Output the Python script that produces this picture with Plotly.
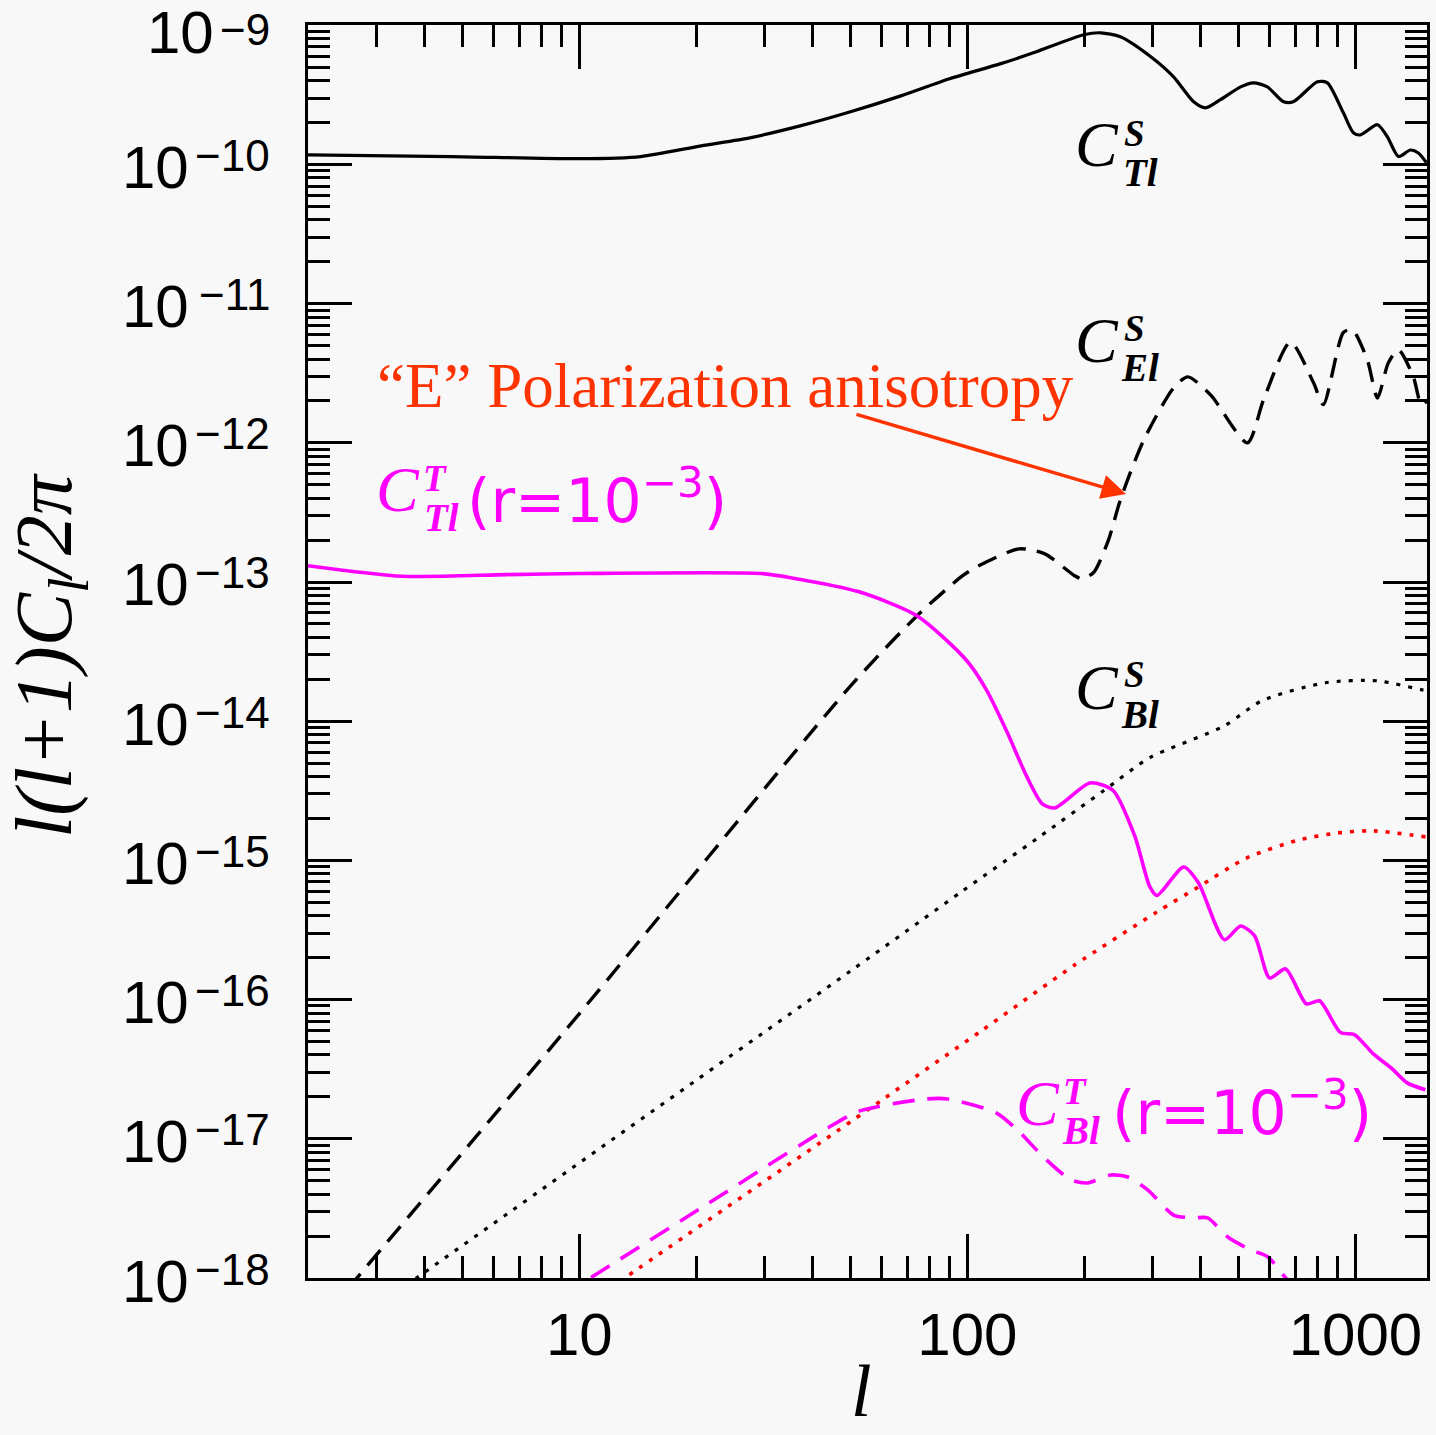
import math
import plotly.graph_objects as go

# ---------------- data ----------------
ell_TT_S = [2, 4.68, 10, 14.4, 20.6, 27.7, 37.3, 50, 67.4, 90, 122, 148, 199.5, 220.6, 248, 297,
            340, 383, 411, 449, 506, 546, 593, 653, 692, 798, 847, 931, 988, 1030, 1140, 1209,
            1291, 1386, 1453, 1524]
cl_TT_S = [1.17e-10, 1.14e-10, 1.10e-10, 1.14e-10, 1.36e-10, 1.56e-10, 1.90e-10, 2.39e-10,
           3.11e-10, 4.13e-10, 5.3e-10, 6.34e-10, 8.55e-10, 8.83e-10, 8.27e-10, 5.94e-10,
           4.26e-10, 2.82e-10, 2.55e-10, 2.92e-10, 3.61e-10, 3.86e-10, 3.61e-10, 2.82e-10,
           2.82e-10, 3.93e-10, 3.86e-10, 2.35e-10, 1.69e-10, 1.63e-10, 1.93e-10, 1.58e-10,
           1.14e-10, 1.27e-10, 1.21e-10, 1.03e-10]

ell_EE_S = [2, 2.65, 10, 50.1, 74.6, 97.3, 106, 136, 158, 189, 198, 212, 231, 248, 285, 340,
            370, 424, 527, 580, 680, 780, 827, 931, 982, 1073, 1140, 1216, 1291, 1410, 1479, 1531]
cl_EE_S = [3.8e-19, 9.7e-19, 7.9e-17, 1.8e-14, 5.8e-14, 1.11e-13, 1.29e-13, 1.73e-13, 1.6e-13,
           1.11e-13, 1.05e-13, 1.18e-13, 2.0e-13, 3.9e-13, 1.05e-12, 2.48e-12, 2.98e-12, 2.2e-12,
           1.0e-12, 2.04e-12, 5.3e-12, 2.7e-12, 1.88e-12, 6.2e-12, 6.5e-12, 3.95e-12, 2.1e-12,
           3.76e-12, 4.66e-12, 2.98e-12, 1.88e-12, 2.0e-12]

ell_BB_S = [2, 3.81, 50.1, 97.3, 152, 226, 295, 460, 573, 837, 1140, 1486, 1531]
cl_BB_S = [2.8e-19, 1.0e-18, 1.61e-16, 6.04e-16, 1.45e-15, 3.21e-15, 5.46e-15,
           9.27e-15, 1.40e-14, 1.89e-14, 1.95e-14, 1.68e-14, 1.66e-14]

ell_BB_lens = [12, 12.9, 59.8, 109, 189, 308, 394, 524, 713, 893, 1112, 1531]
cl_BB_lens = [8.4e-19, 9.7e-19, 1.87e-17, 6.0e-17, 1.77e-16, 4.26e-16, 6.44e-16, 1.04e-15,
              1.40e-15, 1.57e-15, 1.63e-15, 1.47e-15]

ell_TT_T = [2, 3.5, 6.49, 10, 29.4, 35.3, 52.6, 74.3, 99.7, 112, 127, 142, 156, 168,
            207, 237, 270, 295, 308, 361, 394, 460, 506, 550, 601, 661, 748, 808, 915, 994,
            1112, 1244, 1360, 1514]
cl_TT_T = [1.31e-13, 1.10e-13, 1.13e-13, 1.15e-13, 1.15e-13, 1.07e-13, 8.5e-14,
           5.7e-14, 2.72e-14, 1.68e-14, 8.2e-15, 4.05e-15, 2.55e-15, 2.38e-15, 3.6e-15, 3.2e-15,
           1.5e-15, 6.5e-16, 5.6e-16, 8.97e-16, 6.9e-16, 2.69e-16, 3.38e-16, 2.87e-16, 1.43e-16,
           1.66e-16, 9.3e-17, 9.8e-17, 5.8e-17, 5.6e-17, 4.07e-17, 3.18e-17, 2.52e-17, 2.25e-17]

ell_BB_T = [9, 10.5, 20.6, 43.8, 52.6, 78.2, 89.1, 119, 137, 157, 185, 204, 234, 259, 292, 340,
            383, 416, 469, 537, 594, 661, 722]
cl_BB_T = [7.4e-19, 9.7e-19, 3.18e-18, 1.2e-17, 1.58e-17, 1.93e-17, 1.93e-17, 1.53e-17, 1.10e-17,
           7.4e-18, 5.06e-18, 4.81e-18, 5.49e-18, 5.31e-18, 4.28e-18, 2.83e-18, 2.7e-18, 2.70e-18,
           1.97e-18, 1.59e-18, 1.42e-18, 1.0e-18, 7.5e-19]

y_decades = [-18, -17, -16, -15, -14, -13, -12, -11, -10, -9]

# ---------------- figure ----------------
W, H = 1436, 1435
ML, MR, MT, MB = 308, 9, 25, 157
PW, PH = W - ML - MR, H - MT - MB
Y_LO, Y_HI = -18.0, -9.0

BLACK = "#000000"
MAG = "#ff00ff"
RED = "#ff0000"
ORANGE = "#ff3300"

fig = go.Figure()

def add_line(x, y, color, dash, width=3.2, shape="spline"):
    fig.add_trace(go.Scatter(x=x, y=y, mode="lines",
                             line=dict(color=color, dash=dash, width=width, shape=shape,
                                       smoothing=0.7),
                             hoverinfo="skip", showlegend=False))

add_line(ell_TT_S, cl_TT_S, BLACK, "solid", 3.2)
add_line(ell_EE_S, cl_EE_S, BLACK, "20px,11px", 3.4)
add_line(ell_BB_S, cl_BB_S, BLACK, "4px,8px", 3.2)
add_line(ell_BB_lens, cl_BB_lens, RED, "4px,8px", 3.6)
add_line(ell_TT_T, cl_TT_T, MAG, "solid", 3.6)
add_line(ell_BB_T, cl_BB_T, MAG, "22px,13px", 3.6)

def P(px, py):
    return (px - ML) / PW, (H - MB - py) / PH

ann = []

def text(px, py, s, size, color=BLACK, family="Liberation Serif", style="normal",
         weight="normal", xanchor="center", yanchor="middle", angle=0):
    x, y = P(px, py)
    ann.append(dict(x=x, y=y, xref="paper", yref="paper", text=s, showarrow=False,
                    xanchor=xanchor, yanchor=yanchor, textangle=angle,
                    font=dict(family=family, size=size, color=color, style=style,
                              weight=weight)))

def clabel(px, py, sup, sub, color=BLACK):
    text(px, py, "C", 64, color, style="italic")
    text(px + 37, py - 12, sup, 37, color, style="italic", weight="bold")
    text(px + 43, py + 27, sub, 39, color, style="italic", weight="bold")

clabel(1097, 145, "S", "Tl")
clabel(1097, 340, "S", "El")
clabel(1097, 687, "S", "Bl")
clabel(398, 490, "T", "Tl", MAG)
text(465, 497, "(r=10<sup>−3</sup>)", 60, MAG, family="DejaVu Sans", xanchor="left")
clabel(1038, 1103, "T", "Bl", MAG)
text(1110, 1109, "(r=10<sup>−3</sup>)", 60, MAG, family="DejaVu Sans", xanchor="left")

text(375, 386, "“E” Polarization anisotropy", 63, ORANGE, family="Liberation Serif",
     xanchor="left")

# arrow
hx, hy = P(1126, 494)
ann.append(dict(x=hx, y=hy, xref="paper", yref="paper", text="", showarrow=True,
                ax=855 - 1126, ay=414 - 494, axref="pixel", ayref="pixel",
                arrowhead=2, arrowsize=1.4, arrowwidth=3.5, arrowcolor=ORANGE, standoff=0))

# y tick labels drawn as "10" plus a separate exponent, right-aligned beside the axis
EXP_SIZE, MAIN_SIZE = 44, 60
LABEL_RIGHT = 272
def exp_width(s):
    return sum(0.584 if ch == "−" else 0.556 for ch in s) * EXP_SIZE

for d in y_decades:
    ty = MT + (Y_HI - d) / (Y_HI - Y_LO) * PH
    e = "−" + str(abs(d))
    ew = exp_width(e)
    e_y = max(ty - 9, 29)
    m_y = max(ty + 3, 33)
    text(LABEL_RIGHT, e_y, e, EXP_SIZE, BLACK, family="Liberation Sans", xanchor="right")
    text(LABEL_RIGHT - ew - 6, m_y, "10", MAIN_SIZE, BLACK, family="Liberation Sans",
         xanchor="right")

# axis titles
text(50, 656, "l(l+1)C<sub>l</sub>/2π", 80, BLACK, style="italic", angle=-90)
text(861, 1434, "l", 74, BLACK, style="italic", yanchor="bottom")

axis_common = dict(type="log", showgrid=False, zeroline=False, showline=True, linewidth=3,
                   linecolor=BLACK, mirror="ticks", ticks="inside", ticklen=44, tickwidth=3,
                   tickcolor=BLACK, automargin=False,
                   minor=dict(ticks="inside", ticklen=22, tickwidth=3, tickcolor=BLACK,
                              dtick="D1", showgrid=False))

fig.update_xaxes(**axis_common, range=[math.log10(2), 3.1845], dtick=1,
                 exponentformat="none", ticklabelstandoff=2,
                 tickfont=dict(family="Liberation Sans", size=60, color=BLACK))
fig.update_yaxes(**axis_common, range=[Y_LO - 0.0005, Y_HI + 0.002], dtick=1,
                 showticklabels=False)

fig.update_layout(width=W, height=H, margin=dict(l=ML, r=MR, t=MT, b=MB, autoexpand=False),
                  paper_bgcolor="#f8f8f8", plot_bgcolor="#f8f8f8", showlegend=False,
                  annotations=ann)

fig.write_html("out.html")
